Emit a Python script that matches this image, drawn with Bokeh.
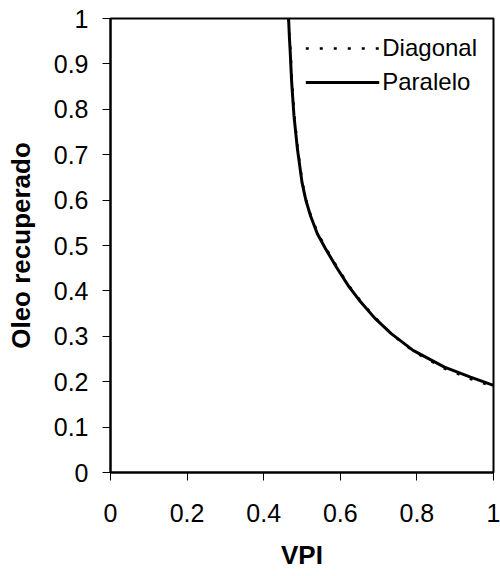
from bokeh.plotting import figure
from bokeh.models import (Range1d, FixedTicker, NumeralTickFormatter, Legend, LegendItem)
from bokeh.embed import file_html
from bokeh.resources import INLINE

# ---- data ----
x_ticks = [0, 0.2, 0.4, 0.6, 0.8, 1.0]
y_ticks = [0, 0.1, 0.2, 0.3, 0.4, 0.5, 0.6, 0.7, 0.8, 0.9, 1.0]

vpi_diagonal = [0.465, 0.467, 0.470, 0.474, 0.480, 0.489, 0.501, 0.511, 0.523,
                0.542, 0.562, 0.592, 0.624, 0.652, 0.692, 0.735, 0.792, 0.872, 0.940, 1.000]
oleo_diagonal = [1.000, 0.960, 0.930, 0.860, 0.786, 0.713, 0.639, 0.600, 0.566,
                 0.526, 0.495, 0.452, 0.410, 0.379, 0.340, 0.304, 0.266, 0.229, 0.206, 0.189]

vpi_paralelo = [0.465, 0.467, 0.469, 0.473, 0.479, 0.488, 0.500, 0.510, 0.522,
                0.540, 0.560, 0.590, 0.622, 0.650, 0.690, 0.733, 0.790, 0.872, 0.940, 1.000]
oleo_paralelo = [1.000, 0.960, 0.930, 0.860, 0.786, 0.713, 0.639, 0.600, 0.566,
                 0.526, 0.495, 0.452, 0.410, 0.379, 0.340, 0.306, 0.269, 0.232, 0.210, 0.192]

FONT = "Liberation Sans"

p = figure(width=500, height=576, output_backend="svg", toolbar_location=None,
           x_range=Range1d(0, 1), y_range=Range1d(0, 1),
           min_border_left=110, min_border_right=7, min_border_top=18, min_border_bottom=104)

p.background_fill_color = "white"
p.border_fill_color = "white"
p.outline_line_color = "black"
p.outline_line_width = 2
p.xgrid.visible = False
p.ygrid.visible = False

for ax, ticks in ((p.xaxis[0], x_ticks), (p.yaxis[0], y_ticks)):
    ax.ticker = FixedTicker(ticks=ticks)
    ax.formatter = NumeralTickFormatter(format="0.[0]")
    ax.axis_line_color = "black"
    ax.axis_line_width = 2
    ax.major_tick_line_color = "black"
    ax.major_tick_line_width = 1
    ax.major_tick_in = 0
    ax.major_tick_out = 8
    ax.minor_tick_line_color = None
    ax.major_label_text_font = FONT
    ax.major_label_text_font_size = "25px"
    ax.major_label_text_color = "black"
    ax.axis_label_text_font = FONT
    ax.axis_label_text_font_size = "26px"
    ax.axis_label_text_font_style = "bold"
    ax.axis_label_text_color = "black"

p.xaxis.axis_label = "VPI"
p.yaxis.axis_label = "Oleo recuperado"
p.xaxis.major_label_standoff = 23
p.xaxis.axis_label_standoff = 15
p.yaxis.major_label_standoff = 14
p.yaxis.axis_label_standoff = 15

r_par = p.line(vpi_paralelo, oleo_paralelo, line_color="black", line_width=3,
               line_join="round")
r_diag = p.line(vpi_diagonal, oleo_diagonal, line_color="black", line_width=2.5,
                line_dash="3 11")

legend = Legend(items=[LegendItem(label="Diagonal", renderers=[r_diag]),
                       LegendItem(label="Paralelo", renderers=[r_par])],
                location="top_right")
legend.border_line_alpha = 0
legend.background_fill_alpha = 0
legend.padding = 0
legend.margin = 16
legend.spacing = 6
legend.glyph_width = 74
legend.glyph_height = 24
legend.label_height = 24
legend.label_standoff = 3
legend.label_text_font = FONT
legend.label_text_font_size = "24px"
legend.label_text_color = "black"
p.add_layout(legend)

open("out.html", "w").write(file_html(p, INLINE))
